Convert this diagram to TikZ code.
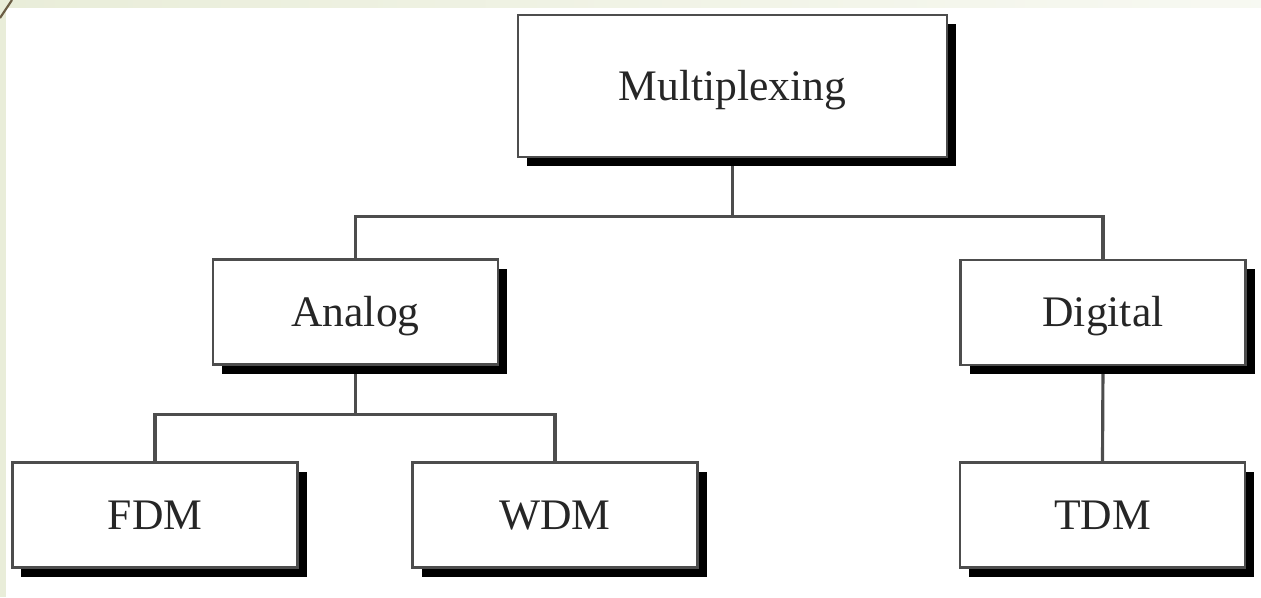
\documentclass[tikz,border=0pt]{standalone}
\usepackage{fontspec}
\setmainfont{Liberation Serif}
\usetikzlibrary{shadows,backgrounds}

\definecolor{linegray}{HTML}{4D4D4D}
\definecolor{slidegreen}{HTML}{E9EDD9}
\definecolor{slidebrown}{HTML}{6B5D45}

\tikzset{
  box/.style={draw=linegray, line width=0.8pt, fill=white, inner sep=0pt,
    minimum width=2.85cm, minimum height=1.05cm, text=black!85,
    font=\fontsize{12.4}{14}\selectfont, text height=8.2pt, text depth=0pt,
    drop shadow={shadow xshift=0.09cm, shadow yshift=-0.09cm, opacity=1, fill=black}},
  link/.style={draw=linegray, line width=0.9pt}
}

\begin{document}
\begin{tikzpicture}
\useasboundingbox (0,0) rectangle (12.61,-5.97);

% tree of boxes
\node[box, minimum width=4.29cm, minimum height=1.42cm] (mux) at (7.325,-0.86) {Multiplexing};
\node[box] (analog) at (3.555,-3.12) {Analog};
\node[box] (digital) at (11.03,-3.125) {Digital};
\node[box] (fdm) at (1.55,-5.15) {FDM};
\node[box] (wdm) at (5.55,-5.15) {WDM};
\node[box] (tdm) at (11.025,-5.15) {TDM};

\begin{scope}[on background layer]
% slide frame
\shade[left color=slidegreen, right color=slidegreen!35] (0,0) rectangle (12.61,-0.07);
\fill[slidegreen] (0,0) rectangle (0.06,-5.97);
\draw[slidebrown, line width=0.6pt] (0,-0.18) -- (0.12,0);

% connectors
\draw[link] (mux.south) -- ++(0,-0.58) coordinate (muxbus);
\draw[link] (analog.north) |- (muxbus) -| (digital.north);

\draw[link] (analog.south) -- ++(0,-0.49) coordinate (anbus);
\draw[link] (fdm.north) |- (anbus) -| (wdm.north);

\draw[link] (digital.south) -- (tdm.north);
\end{scope}
\end{tikzpicture}
\end{document}
